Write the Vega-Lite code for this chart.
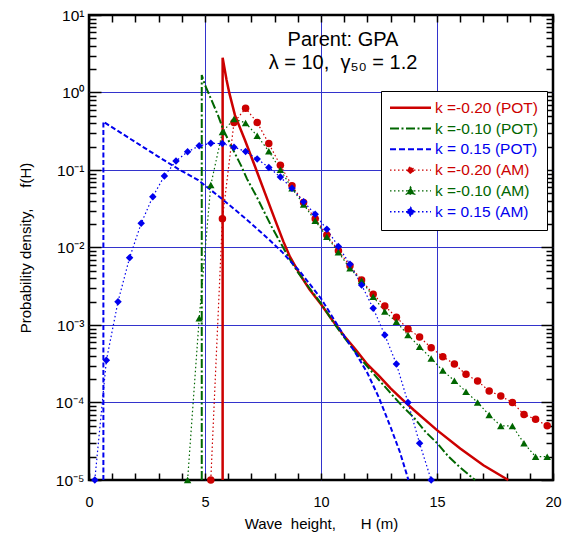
{
  "$schema": "https://vega.github.io/schema/vega-lite/v6.json",
  "width": 464,
  "height": 465,
  "autosize": {"type": "none"},
  "padding": {"left": 89, "top": 15, "right": 12, "bottom": 53},
  "background": "white",
  "config": {
    "font": "Liberation Sans",
    "view": {"stroke": "black", "strokeWidth": 2.5},
    "axis": {
      "labelFont": "Liberation Sans", "titleFont": "Liberation Sans",
      "labelColor": "black", "titleColor": "black", "titleFontWeight": "normal",
      "domain": false, "tickColor": "black", "tickWidth": 1.5,
      "labelFontSize": 14.5, "titleFontSize": 15, "gridColor": "#3333cc", "gridWidth": 1
    }
  },
  "title": {
    "text": ["Parent: GPA", "λ = 10,\u00a0 γ₅₀ = 1.2"],
    "fontSize": 20, "fontWeight": "normal", "font": "Liberation Sans", "color": "black",
    "anchor": "middle", "dx": 22, "offset": -65, "lineHeight": 23.5, "orient": "top"
  },
  "data": {"values": [
    {"series": "k =-0.20 (POT)", "H": 5.76, "f": 0.00001},
    {"series": "k =-0.20 (POT)", "H": 5.76, "f": 2.81},
    {"series": "k =-0.20 (POT)", "H": 5.93, "f": 1.45},
    {"series": "k =-0.20 (POT)", "H": 6.05, "f": 0.98},
    {"series": "k =-0.20 (POT)", "H": 6.29, "f": 0.51},
    {"series": "k =-0.20 (POT)", "H": 6.72, "f": 0.244},
    {"series": "k =-0.20 (POT)", "H": 7.16, "f": 0.11},
    {"series": "k =-0.20 (POT)", "H": 7.59, "f": 0.05},
    {"series": "k =-0.20 (POT)", "H": 8.02, "f": 0.0227},
    {"series": "k =-0.20 (POT)", "H": 8.38, "f": 0.0119},
    {"series": "k =-0.20 (POT)", "H": 8.66, "f": 0.0076},
    {"series": "k =-0.20 (POT)", "H": 9.09, "f": 0.0045},
    {"series": "k =-0.20 (POT)", "H": 9.5, "f": 0.0029},
    {"series": "k =-0.20 (POT)", "H": 10, "f": 0.00185},
    {"series": "k =-0.20 (POT)", "H": 10.5, "f": 0.00114},
    {"series": "k =-0.20 (POT)", "H": 11, "f": 0.00072},
    {"series": "k =-0.20 (POT)", "H": 11.5, "f": 0.00048},
    {"series": "k =-0.20 (POT)", "H": 12, "f": 0.00031},
    {"series": "k =-0.20 (POT)", "H": 12.5, "f": 0.00022},
    {"series": "k =-0.20 (POT)", "H": 13, "f": 0.000152},
    {"series": "k =-0.20 (POT)", "H": 13.5, "f": 0.00011},
    {"series": "k =-0.20 (POT)", "H": 14, "f": 0.00008},
    {"series": "k =-0.20 (POT)", "H": 15, "f": 0.000044},
    {"series": "k =-0.20 (POT)", "H": 16, "f": 0.0000255},
    {"series": "k =-0.20 (POT)", "H": 17, "f": 0.0000155},
    {"series": "k =-0.20 (POT)", "H": 18.07, "f": 0.00001},

    {"series": "k =-0.10 (POT)", "H": 4.86, "f": 0.00001},
    {"series": "k =-0.10 (POT)", "H": 4.86, "f": 1.68},
    {"series": "k =-0.10 (POT)", "H": 5.0, "f": 1.25},
    {"series": "k =-0.10 (POT)", "H": 5.22, "f": 0.88},
    {"series": "k =-0.10 (POT)", "H": 5.57, "f": 0.5},
    {"series": "k =-0.10 (POT)", "H": 5.79, "f": 0.33},
    {"series": "k =-0.10 (POT)", "H": 6.22, "f": 0.18},
    {"series": "k =-0.10 (POT)", "H": 6.58, "f": 0.11},
    {"series": "k =-0.10 (POT)", "H": 6.8, "f": 0.078},
    {"series": "k =-0.10 (POT)", "H": 7.23, "f": 0.045},
    {"series": "k =-0.10 (POT)", "H": 7.51, "f": 0.0305},
    {"series": "k =-0.10 (POT)", "H": 7.87, "f": 0.0186},
    {"series": "k =-0.10 (POT)", "H": 8.23, "f": 0.0119},
    {"series": "k =-0.10 (POT)", "H": 8.59, "f": 0.0076},
    {"series": "k =-0.10 (POT)", "H": 9.0, "f": 0.0048},
    {"series": "k =-0.10 (POT)", "H": 9.5, "f": 0.003},
    {"series": "k =-0.10 (POT)", "H": 10, "f": 0.0019},
    {"series": "k =-0.10 (POT)", "H": 10.5, "f": 0.00112},
    {"series": "k =-0.10 (POT)", "H": 11, "f": 0.00069},
    {"series": "k =-0.10 (POT)", "H": 11.5, "f": 0.00044},
    {"series": "k =-0.10 (POT)", "H": 12, "f": 0.00029},
    {"series": "k =-0.10 (POT)", "H": 12.5, "f": 0.000195},
    {"series": "k =-0.10 (POT)", "H": 13, "f": 0.000132},
    {"series": "k =-0.10 (POT)", "H": 13.5, "f": 0.00009},
    {"series": "k =-0.10 (POT)", "H": 14, "f": 0.000064},
    {"series": "k =-0.10 (POT)", "H": 14.5, "f": 0.000042},
    {"series": "k =-0.10 (POT)", "H": 15, "f": 0.00003},
    {"series": "k =-0.10 (POT)", "H": 15.5, "f": 0.00002},
    {"series": "k =-0.10 (POT)", "H": 16, "f": 0.0000145},
    {"series": "k =-0.10 (POT)", "H": 16.64, "f": 0.00001},

    {"series": "k = 0.15 (POT)", "H": 0.62, "f": 0.00001},
    {"series": "k = 0.15 (POT)", "H": 0.62, "f": 0.42},
    {"series": "k = 0.15 (POT)", "H": 2, "f": 0.229},
    {"series": "k = 0.15 (POT)", "H": 3, "f": 0.148},
    {"series": "k = 0.15 (POT)", "H": 3.92, "f": 0.1},
    {"series": "k = 0.15 (POT)", "H": 4.71, "f": 0.074},
    {"series": "k = 0.15 (POT)", "H": 5.72, "f": 0.0427},
    {"series": "k = 0.15 (POT)", "H": 6.72, "f": 0.024},
    {"series": "k = 0.15 (POT)", "H": 7.66, "f": 0.0135},
    {"series": "k = 0.15 (POT)", "H": 8.3, "f": 0.0089},
    {"series": "k = 0.15 (POT)", "H": 9.09, "f": 0.0049},
    {"series": "k = 0.15 (POT)", "H": 10, "f": 0.0022},
    {"series": "k = 0.15 (POT)", "H": 10.5, "f": 0.00126},
    {"series": "k = 0.15 (POT)", "H": 11, "f": 0.00072},
    {"series": "k = 0.15 (POT)", "H": 11.5, "f": 0.00043},
    {"series": "k = 0.15 (POT)", "H": 12, "f": 0.00024},
    {"series": "k = 0.15 (POT)", "H": 12.5, "f": 0.000115},
    {"series": "k = 0.15 (POT)", "H": 13, "f": 0.000048},
    {"series": "k = 0.15 (POT)", "H": 13.4, "f": 0.000023},
    {"series": "k = 0.15 (POT)", "H": 13.77, "f": 0.00001},

    {"series": "k =-0.20 (AM)", "H": 5.25, "f": 0.00001},
    {"series": "k =-0.20 (AM)", "H": 5.75, "f": 0.0235},
    {"series": "k =-0.20 (AM)", "H": 6.25, "f": 0.41},
    {"series": "k =-0.20 (AM)", "H": 6.75, "f": 0.625},
    {"series": "k =-0.20 (AM)", "H": 7.25, "f": 0.41},
    {"series": "k =-0.20 (AM)", "H": 7.75, "f": 0.219},
    {"series": "k =-0.20 (AM)", "H": 8.25, "f": 0.115},
    {"series": "k =-0.20 (AM)", "H": 8.75, "f": 0.0627},
    {"series": "k =-0.20 (AM)", "H": 9.25, "f": 0.038},
    {"series": "k =-0.20 (AM)", "H": 9.75, "f": 0.0235},
    {"series": "k =-0.20 (AM)", "H": 10.25, "f": 0.0145},
    {"series": "k =-0.20 (AM)", "H": 10.75, "f": 0.0091},
    {"series": "k =-0.20 (AM)", "H": 11.25, "f": 0.0058},
    {"series": "k =-0.20 (AM)", "H": 11.75, "f": 0.0038},
    {"series": "k =-0.20 (AM)", "H": 12.25, "f": 0.00249},
    {"series": "k =-0.20 (AM)", "H": 12.75, "f": 0.00176},
    {"series": "k =-0.20 (AM)", "H": 13.25, "f": 0.00126},
    {"series": "k =-0.20 (AM)", "H": 13.75, "f": 0.000887},
    {"series": "k =-0.20 (AM)", "H": 14.25, "f": 0.0007},
    {"series": "k =-0.20 (AM)", "H": 14.75, "f": 0.000509},
    {"series": "k =-0.20 (AM)", "H": 15.25, "f": 0.00039},
    {"series": "k =-0.20 (AM)", "H": 15.75, "f": 0.000314},
    {"series": "k =-0.20 (AM)", "H": 16.25, "f": 0.000231},
    {"series": "k =-0.20 (AM)", "H": 16.75, "f": 0.000189},
    {"series": "k =-0.20 (AM)", "H": 17.25, "f": 0.000141},
    {"series": "k =-0.20 (AM)", "H": 17.75, "f": 0.000121},
    {"series": "k =-0.20 (AM)", "H": 18.25, "f": 0.0001},
    {"series": "k =-0.20 (AM)", "H": 18.75, "f": 0.00007},
    {"series": "k =-0.20 (AM)", "H": 19.25, "f": 0.0000607},
    {"series": "k =-0.20 (AM)", "H": 19.75, "f": 0.00005},

    {"series": "k =-0.10 (AM)", "H": 4.25, "f": 0.00001},
    {"series": "k =-0.10 (AM)", "H": 4.75, "f": 0.00122},
    {"series": "k =-0.10 (AM)", "H": 5.25, "f": 0.064},
    {"series": "k =-0.10 (AM)", "H": 5.75, "f": 0.31},
    {"series": "k =-0.10 (AM)", "H": 6.25, "f": 0.455},
    {"series": "k =-0.10 (AM)", "H": 6.75, "f": 0.405},
    {"series": "k =-0.10 (AM)", "H": 7.25, "f": 0.276},
    {"series": "k =-0.10 (AM)", "H": 7.75, "f": 0.175},
    {"series": "k =-0.10 (AM)", "H": 8.25, "f": 0.101},
    {"series": "k =-0.10 (AM)", "H": 8.75, "f": 0.058},
    {"series": "k =-0.10 (AM)", "H": 9.25, "f": 0.036},
    {"series": "k =-0.10 (AM)", "H": 9.75, "f": 0.0222},
    {"series": "k =-0.10 (AM)", "H": 10.25, "f": 0.0138},
    {"series": "k =-0.10 (AM)", "H": 10.75, "f": 0.0087},
    {"series": "k =-0.10 (AM)", "H": 11.25, "f": 0.00538},
    {"series": "k =-0.10 (AM)", "H": 11.75, "f": 0.00373},
    {"series": "k =-0.10 (AM)", "H": 12.25, "f": 0.00232},
    {"series": "k =-0.10 (AM)", "H": 12.75, "f": 0.00149},
    {"series": "k =-0.10 (AM)", "H": 13.25, "f": 0.0011},
    {"series": "k =-0.10 (AM)", "H": 13.75, "f": 0.00074},
    {"series": "k =-0.10 (AM)", "H": 14.25, "f": 0.000525},
    {"series": "k =-0.10 (AM)", "H": 14.75, "f": 0.00037},
    {"series": "k =-0.10 (AM)", "H": 15.25, "f": 0.000258},
    {"series": "k =-0.10 (AM)", "H": 15.75, "f": 0.000191},
    {"series": "k =-0.10 (AM)", "H": 16.25, "f": 0.000138},
    {"series": "k =-0.10 (AM)", "H": 16.75, "f": 0.0001},
    {"series": "k =-0.10 (AM)", "H": 17.25, "f": 0.000069},
    {"series": "k =-0.10 (AM)", "H": 17.75, "f": 0.0000498},
    {"series": "k =-0.10 (AM)", "H": 18.25, "f": 0.0000498},
    {"series": "k =-0.10 (AM)", "H": 18.75, "f": 0.0000297},
    {"series": "k =-0.10 (AM)", "H": 19.25, "f": 0.00002},
    {"series": "k =-0.10 (AM)", "H": 19.75, "f": 0.00002},

    {"series": "k = 0.15 (AM)", "H": 0.25, "f": 0.00001},
    {"series": "k = 0.15 (AM)", "H": 0.75, "f": 0.00035},
    {"series": "k = 0.15 (AM)", "H": 1.25, "f": 0.002},
    {"series": "k = 0.15 (AM)", "H": 1.75, "f": 0.0074},
    {"series": "k = 0.15 (AM)", "H": 2.25, "f": 0.0205},
    {"series": "k = 0.15 (AM)", "H": 2.75, "f": 0.0453},
    {"series": "k = 0.15 (AM)", "H": 3.25, "f": 0.0838},
    {"series": "k = 0.15 (AM)", "H": 3.75, "f": 0.1306},
    {"series": "k = 0.15 (AM)", "H": 4.25, "f": 0.172},
    {"series": "k = 0.15 (AM)", "H": 4.75, "f": 0.205},
    {"series": "k = 0.15 (AM)", "H": 5.25, "f": 0.221},
    {"series": "k = 0.15 (AM)", "H": 5.75, "f": 0.219},
    {"series": "k = 0.15 (AM)", "H": 6.25, "f": 0.197},
    {"series": "k = 0.15 (AM)", "H": 6.75, "f": 0.173},
    {"series": "k = 0.15 (AM)", "H": 7.25, "f": 0.139},
    {"series": "k = 0.15 (AM)", "H": 7.75, "f": 0.108},
    {"series": "k = 0.15 (AM)", "H": 8.25, "f": 0.081},
    {"series": "k = 0.15 (AM)", "H": 8.75, "f": 0.058},
    {"series": "k = 0.15 (AM)", "H": 9.25, "f": 0.039},
    {"series": "k = 0.15 (AM)", "H": 9.75, "f": 0.0268},
    {"series": "k = 0.15 (AM)", "H": 10.25, "f": 0.0172},
    {"series": "k = 0.15 (AM)", "H": 10.75, "f": 0.0103},
    {"series": "k = 0.15 (AM)", "H": 11.25, "f": 0.00607},
    {"series": "k = 0.15 (AM)", "H": 11.75, "f": 0.00328},
    {"series": "k = 0.15 (AM)", "H": 12.25, "f": 0.00164},
    {"series": "k = 0.15 (AM)", "H": 12.75, "f": 0.000743},
    {"series": "k = 0.15 (AM)", "H": 13.25, "f": 0.000314},
    {"series": "k = 0.15 (AM)", "H": 13.75, "f": 0.0001},
    {"series": "k = 0.15 (AM)", "H": 14.25, "f": 0.0000297},
    {"series": "k = 0.15 (AM)", "H": 14.75, "f": 0.00001}
  ]},
  "layer": [
    {
      "transform": [{"filter": "datum.series === 'k =-0.20 (POT)'"}],
      "mark": {"type": "line", "strokeWidth": 2.5},
      "encoding": {
        "x": {"field": "H", "type": "quantitative", "scale": {"domain": [0, 20], "nice": false, "zero": false},
          "axis": {
            "orient": "bottom",
            "values": [0,1,2,3,4,5,6,7,8,9,10,11,12,13,14,15,16,17,18,19,20],
            "title": "Wave\u00a0 height,\u00a0\u00a0\u00a0\u00a0\u00a0 H (m)",
            "titlePadding": 8,
            "labelExpr": "datum.value % 5 === 0 ? datum.label : ''",
            "labelPadding": 22, "tickSize": -7, "labelFontSize": 14.5,
            "labelOverlap": false, "labelFlush": false, "labelBound": false,
            "grid": true,
            "gridOpacity": {"condition": {"test": "datum.value % 5 === 0 && datum.value > 0 && datum.value < 20", "value": 1}, "value": 0}
          }},
        "y": {"field": "f", "type": "quantitative", "scale": {"type": "log", "domain": [0.00001, 10], "nice": false},
          "axis": {
            "orient": "left",
            "values": [0.00001,0.00002,0.00003,0.00004,0.00005,0.00006,0.00007,0.00008,0.00009,0.0001,0.0002,0.0003,0.0004,0.0005,0.0006,0.0007,0.0008,0.0009,0.001,0.002,0.003,0.004,0.005,0.006,0.007,0.008,0.009,0.01,0.02,0.03,0.04,0.05,0.06,0.07,0.08,0.09,0.1,0.2,0.3,0.4,0.5,0.6,0.7,0.8,0.9,1,2,3,4,5,6,7,8,9,10],
            "title": "Probability density,\u00a0\u00a0\u00a0\u00a0 f(H)",
            "titlePadding": 22,
            "labelExpr": "abs(log(datum.value)/LN10 - round(log(datum.value)/LN10)) < 0.001 ? ['10⁻⁵','10⁻⁴','10⁻³','10⁻²','10⁻¹','10⁰','10¹'][round(log(datum.value)/LN10) + 5] : ''",
            "labelPadding": 17, "tickSize": -12, "labelFontSize": 15.5,
            "labelOverlap": false, "labelFlush": false, "labelBound": false,
            "tickDash": {"condition": {"test": "abs(log(datum.value)/LN10 - round(log(datum.value)/LN10)) < 0.001", "value": [1000]}, "value": [7, 1000]},
            "grid": true,
            "gridOpacity": {"condition": {"test": "abs(log(datum.value)/LN10 - round(log(datum.value)/LN10)) < 0.001 && datum.value > 0.00002 && datum.value < 5", "value": 1}, "value": 0}
          }},
        "color": {"field": "series", "type": "nominal",
          "scale": {"domain": ["k =-0.20 (POT)", "k =-0.10 (POT)", "k = 0.15 (POT)", "k =-0.20 (AM)", "k =-0.10 (AM)", "k = 0.15 (AM)"],
                    "range": ["#cc0000", "#006600", "#0000ee", "#cc0000", "#006600", "#0000ee"]},
          "legend": {
            "title": null, "orient": "none", "legendX": 292, "legendY": 76, "direction": "vertical",
            "padding": 9, "rowPadding": 3.8, "symbolSize": 4, "symbolStrokeWidth": 1.3,
            "labelOffset": 29.5, "labelFont": "Liberation Sans", "labelFontSize": 15.5, "labelLimit": 300,
            "labelExpr": "datum.label + '\u00a0\u00a0'",
            "fillColor": "white", "strokeColor": "black",
            "encode": {
              "symbols": {"update": {
                "shape": [
                  {"test": "datum.value === 'k =-0.20 (POT)'", "value": "M-7.75,-0.7L33.25,-0.7M-7.75,0.7L33.25,0.7"},
                  {"test": "datum.value === 'k =-0.20 (AM)'", "value": "M-7.75,0L33.25,0M15.75,0A3,3 0 1,1 9.75,0A3,3 0 1,1 15.75,0Z"},
                  {"test": "datum.value === 'k =-0.10 (AM)'", "value": "M-7.75,0L33.25,0M12.75,-4L16.95,3.2L8.55,3.2Z"},
                  {"test": "datum.value === 'k = 0.15 (AM)'", "value": "M-7.75,0L33.25,0M12.75,-4.5L16.75,0L12.75,4.5L8.75,0Z"},
                  {"value": "M-7.75,-0.35L33.25,-0.35M-7.75,0.35L33.25,0.35"}
                ],
                "fill": [
                  {"test": "datum.value === 'k =-0.20 (AM)'", "value": "#cc0000"},
                  {"test": "datum.value === 'k =-0.10 (AM)'", "value": "#006600"},
                  {"test": "datum.value === 'k = 0.15 (AM)'", "value": "#0000ee"},
                  {"value": "transparent"}
                ],
                "stroke": [
                  {"test": "indexof(datum.value, '-0.20') >= 0", "value": "#cc0000"},
                  {"test": "indexof(datum.value, '-0.10') >= 0", "value": "#006600"},
                  {"value": "#0000ee"}
                ],
                "strokeDash": [
                  {"test": "datum.value === 'k =-0.20 (POT)'", "value": [1000]},
                  {"test": "datum.value === 'k =-0.10 (POT)'", "value": [9, 2.5, 2, 2.5]},
                  {"test": "datum.value === 'k = 0.15 (POT)'", "value": [6, 3]},
                  {"value": [1.5, 2.5]}
                ],
                "opacity": {"value": 1}
              }},
              "labels": {"update": {
                "fill": [
                  {"test": "indexof(datum.value, '-0.20') >= 0", "value": "#cc0000"},
                  {"test": "indexof(datum.value, '-0.10') >= 0", "value": "#006600"},
                  {"value": "#0000ee"}
                ]
              }}
            }
          }},
        "order": {"value": null}
      }
    },
    {
      "transform": [{"filter": "datum.series === 'k =-0.10 (POT)'"}],
      "mark": {"type": "line", "strokeWidth": 2, "strokeDash": [9, 2.5, 2, 2.5]},
      "encoding": {
        "x": {"field": "H", "type": "quantitative", "scale": {"domain": [0, 20], "nice": false, "zero": false},
          "axis": {"orient": "top", "values": [0,1,2,3,4,5,6,7,8,9,10,11,12,13,14,15,16,17,18,19,20], "labels": false, "title": null, "tickSize": -7, "grid": false}},
        "y": {"field": "f", "type": "quantitative", "scale": {"type": "log", "domain": [0.00001, 10], "nice": false},
          "axis": {"orient": "right",
            "values": [0.00001,0.00002,0.00003,0.00004,0.00005,0.00006,0.00007,0.00008,0.00009,0.0001,0.0002,0.0003,0.0004,0.0005,0.0006,0.0007,0.0008,0.0009,0.001,0.002,0.003,0.004,0.005,0.006,0.007,0.008,0.009,0.01,0.02,0.03,0.04,0.05,0.06,0.07,0.08,0.09,0.1,0.2,0.3,0.4,0.5,0.6,0.7,0.8,0.9,1,2,3,4,5,6,7,8,9,10],
            "labels": false, "title": null, "tickSize": -12, "grid": false,
            "tickDash": {"condition": {"test": "abs(log(datum.value)/LN10 - round(log(datum.value)/LN10)) < 0.001", "value": [1000]}, "value": [7, 1000]}}},
        "color": {"field": "series", "type": "nominal",
          "scale": {"domain": ["k =-0.20 (POT)", "k =-0.10 (POT)", "k = 0.15 (POT)", "k =-0.20 (AM)", "k =-0.10 (AM)", "k = 0.15 (AM)"],
                    "range": ["#cc0000", "#006600", "#0000ee", "#cc0000", "#006600", "#0000ee"]}, "legend": null},
        "order": {"value": null}
      }
    },
    {
      "transform": [{"filter": "datum.series === 'k = 0.15 (POT)'"}],
      "mark": {"type": "line", "strokeWidth": 2, "strokeDash": [5, 2.5]},
      "encoding": {
        "x": {"field": "H", "type": "quantitative", "scale": {"domain": [0, 20], "nice": false, "zero": false}, "axis": null},
        "y": {"field": "f", "type": "quantitative", "scale": {"type": "log", "domain": [0.00001, 10], "nice": false}, "axis": null},
        "color": {"field": "series", "type": "nominal",
          "scale": {"domain": ["k =-0.20 (POT)", "k =-0.10 (POT)", "k = 0.15 (POT)", "k =-0.20 (AM)", "k =-0.10 (AM)", "k = 0.15 (AM)"],
                    "range": ["#cc0000", "#006600", "#0000ee", "#cc0000", "#006600", "#0000ee"]}, "legend": null},
        "order": {"value": null}
      }
    },
    {
      "transform": [{"filter": "indexof(datum.series, '(AM)') >= 0"}],
      "mark": {"type": "line", "strokeWidth": 1.2, "strokeDash": [1.5, 2.5]},
      "encoding": {
        "x": {"field": "H", "type": "quantitative", "scale": {"domain": [0, 20], "nice": false, "zero": false}, "axis": null},
        "y": {"field": "f", "type": "quantitative", "scale": {"type": "log", "domain": [0.00001, 10], "nice": false}, "axis": null},
        "color": {"field": "series", "type": "nominal",
          "scale": {"domain": ["k =-0.20 (POT)", "k =-0.10 (POT)", "k = 0.15 (POT)", "k =-0.20 (AM)", "k =-0.10 (AM)", "k = 0.15 (AM)"],
                    "range": ["#cc0000", "#006600", "#0000ee", "#cc0000", "#006600", "#0000ee"]}, "legend": null},
        "order": {"value": null}
      }
    },
    {
      "transform": [{"filter": "indexof(datum.series, '(AM)') >= 0"}],
      "mark": {"type": "point", "filled": true, "size": 56, "opacity": 1},
      "encoding": {
        "x": {"field": "H", "type": "quantitative", "scale": {"domain": [0, 20], "nice": false, "zero": false}, "axis": null},
        "y": {"field": "f", "type": "quantitative", "scale": {"type": "log", "domain": [0.00001, 10], "nice": false}, "axis": null},
        "color": {"field": "series", "type": "nominal",
          "scale": {"domain": ["k =-0.20 (POT)", "k =-0.10 (POT)", "k = 0.15 (POT)", "k =-0.20 (AM)", "k =-0.10 (AM)", "k = 0.15 (AM)"],
                    "range": ["#cc0000", "#006600", "#0000ee", "#cc0000", "#006600", "#0000ee"]}, "legend": null},
        "shape": {"field": "series", "type": "nominal",
          "scale": {"domain": ["k =-0.20 (AM)", "k =-0.10 (AM)", "k = 0.15 (AM)"], "range": ["circle", "triangle-up", "diamond"]}, "legend": null}
      }
    }
  ],
  "resolve": {"axis": {"x": "independent", "y": "independent"}}
}
